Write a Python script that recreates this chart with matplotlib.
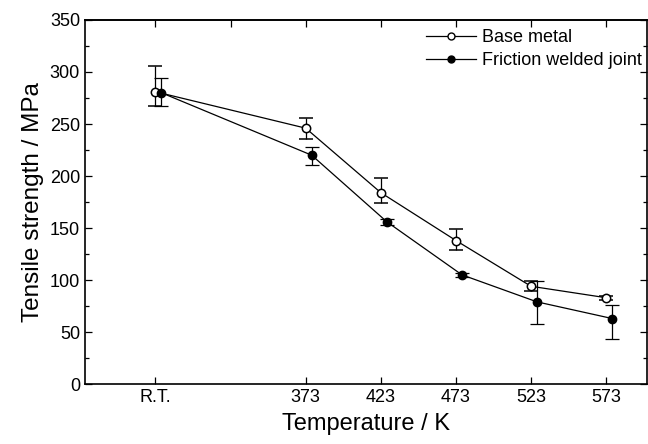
import numpy as np
import matplotlib.pyplot as plt
from matplotlib.lines import Line2D
from matplotlib.ticker import FixedLocator, MultipleLocator

plt.rcParams['font.family'] = ['Liberation Sans', 'DejaVu Sans']

# temperature in K, room temperature drawn at 273
temps = [273, 373, 423, 473, 523, 573]
tick_labels = ['R.T.', '373', '423', '473', '523', '573']

base = [281, 246, 184, 138, 94, 83]
base_err_lo = [14, 10, 10, 9, 5, 2]
base_err_hi = [25, 10, 14, 11, 5, 2]

joint = [280, 220, 156, 105, 79, 63]
joint_err_lo = [13, 9, 3, 2, 21, 20]
joint_err_hi = [14, 8, 3, 2, 20, 13]

fig = plt.figure(figsize=(6.48, 4.44), dpi=100)
ax = fig.add_axes([0.131, 0.135, 0.867, 0.82])

x = np.array(temps)
ax.errorbar(x, base, yerr=[base_err_lo, base_err_hi], fmt='-o', color='k',
            mfc='white', mec='k', ms=6, mew=1.1, lw=0.9, elinewidth=0.9,
            capsize=5, capthick=0.9, zorder=3)
ax.errorbar(x + 4, joint, yerr=[joint_err_lo, joint_err_hi], fmt='-o', color='k',
            mfc='k', mec='k', ms=6, lw=0.9, elinewidth=0.9, capsize=5,
            capthick=0.9, zorder=3)

ax.set_xlim(226, 600)
ax.set_ylim(0, 350)
ax.xaxis.set_major_locator(FixedLocator(temps))
ax.set_xticklabels(tick_labels)
ax.yaxis.set_major_locator(MultipleLocator(50))
ax.yaxis.set_minor_locator(MultipleLocator(25))
ax.tick_params(direction='in', labelsize=13, length=5, width=0.9,
               right=True, which='both')
ax.tick_params(which='minor', length=3)

# top axis has a tick every 50 K
top = ax.secondary_xaxis('top')
top.xaxis.set_major_locator(FixedLocator(np.arange(273, 574, 50)))
top.tick_params(direction='in', length=5, width=0.9, labeltop=False)
top.spines['top'].set_linewidth(1.2)

for s in ax.spines.values():
    s.set_linewidth(1.2)

ax.set_xlabel('Temperature / K', fontsize=17, labelpad=5)
ax.set_ylabel('Tensile strength / MPa', fontsize=17.5, labelpad=4)

handles = [
    Line2D([], [], color='k', lw=0.9, marker='o', ms=5, mfc='white', mec='k'),
    Line2D([], [], color='k', lw=0.9, marker='o', ms=5, mfc='k', mec='k'),
]
ax.legend(handles, ['Base metal', 'Friction welded joint'], loc='upper right',
          bbox_to_anchor=(1.01, 1.005), frameon=False, fontsize=13,
          handlelength=2.8, handletextpad=0.3, labelspacing=0.35,
          borderaxespad=0.2)

fig.savefig('out.png', dpi=100)
